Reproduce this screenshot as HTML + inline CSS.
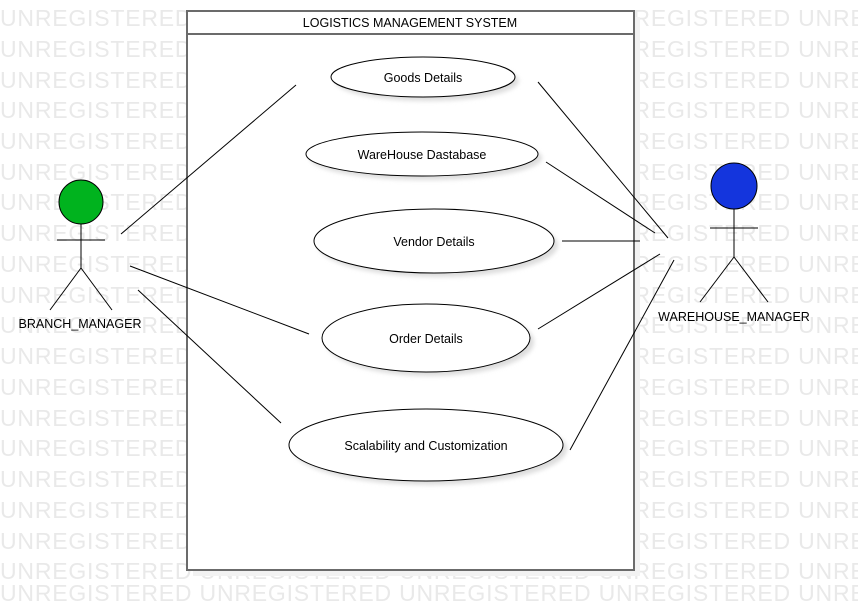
<!DOCTYPE html>
<html><head><style>
body{margin:0;width:858px;height:610px;overflow:hidden;background:#fff;font-family:"Liberation Sans",sans-serif;}
</style></head><body>
<svg width="858" height="610" xmlns="http://www.w3.org/2000/svg" font-family="Liberation Sans, sans-serif">
<defs><filter id="s" x="-10%" y="-20%" width="130%" height="160%"><feGaussianBlur stdDeviation="2"/></filter></defs>
<g fill="#e9e9e9" font-size="23" letter-spacing="0.8">
<text x="0" y="26">UNREGISTERED UNREGISTERED UNREGISTERED UNREGISTERED UNREGISTERED</text>
<text x="0" y="57">UNREGISTERED UNREGISTERED UNREGISTERED UNREGISTERED UNREGISTERED</text>
<text x="0" y="88">UNREGISTERED UNREGISTERED UNREGISTERED UNREGISTERED UNREGISTERED</text>
<text x="0" y="118">UNREGISTERED UNREGISTERED UNREGISTERED UNREGISTERED UNREGISTERED</text>
<text x="0" y="149">UNREGISTERED UNREGISTERED UNREGISTERED UNREGISTERED UNREGISTERED</text>
<text x="0" y="180">UNREGISTERED UNREGISTERED UNREGISTERED UNREGISTERED UNREGISTERED</text>
<text x="0" y="210">UNREGISTERED UNREGISTERED UNREGISTERED UNREGISTERED UNREGISTERED</text>
<text x="0" y="241">UNREGISTERED UNREGISTERED UNREGISTERED UNREGISTERED UNREGISTERED</text>
<text x="0" y="272">UNREGISTERED UNREGISTERED UNREGISTERED UNREGISTERED UNREGISTERED</text>
<text x="0" y="303">UNREGISTERED UNREGISTERED UNREGISTERED UNREGISTERED UNREGISTERED</text>
<text x="0" y="333">UNREGISTERED UNREGISTERED UNREGISTERED UNREGISTERED UNREGISTERED</text>
<text x="0" y="364">UNREGISTERED UNREGISTERED UNREGISTERED UNREGISTERED UNREGISTERED</text>
<text x="0" y="395">UNREGISTERED UNREGISTERED UNREGISTERED UNREGISTERED UNREGISTERED</text>
<text x="0" y="426">UNREGISTERED UNREGISTERED UNREGISTERED UNREGISTERED UNREGISTERED</text>
<text x="0" y="456">UNREGISTERED UNREGISTERED UNREGISTERED UNREGISTERED UNREGISTERED</text>
<text x="0" y="487">UNREGISTERED UNREGISTERED UNREGISTERED UNREGISTERED UNREGISTERED</text>
<text x="0" y="518">UNREGISTERED UNREGISTERED UNREGISTERED UNREGISTERED UNREGISTERED</text>
<text x="0" y="549">UNREGISTERED UNREGISTERED UNREGISTERED UNREGISTERED UNREGISTERED</text>
<text x="0" y="579">UNREGISTERED UNREGISTERED UNREGISTERED UNREGISTERED UNREGISTERED</text>
<text x="0" y="601">UNREGISTERED UNREGISTERED UNREGISTERED UNREGISTERED UNREGISTERED</text>
</g>
<rect x="193" y="17" width="447" height="559" fill="#f2f2f2"/>
<rect x="187" y="11" width="447" height="559" fill="#fff" stroke="#6b6b6b" stroke-width="2"/>
<line x1="187" y1="34" x2="634" y2="34" stroke="#6b6b6b" stroke-width="2"/>
<text x="410" y="27" font-size="12.5" text-anchor="middle" fill="#000">LOGISTICS MANAGEMENT SYSTEM</text>
<g fill="#ddd" filter="url(#s)">
<ellipse cx="427" cy="81" rx="92" ry="20"/>
<ellipse cx="426" cy="158" rx="116" ry="22"/>
<ellipse cx="438" cy="245" rx="120" ry="32"/>
<ellipse cx="430" cy="342" rx="104" ry="34"/>
<ellipse cx="430" cy="449" rx="137" ry="36"/>
</g>
<g fill="#fff" stroke="#000" stroke-width="1">
<ellipse cx="423" cy="77" rx="92" ry="20"/>
<ellipse cx="422" cy="154" rx="116" ry="22"/>
<ellipse cx="434" cy="241" rx="120" ry="32"/>
<ellipse cx="426" cy="338" rx="104" ry="34"/>
<ellipse cx="426" cy="445" rx="137" ry="36"/>
</g>
<g font-size="12.5" text-anchor="middle" fill="#000">
<text x="423" y="82">Goods Details</text>
<text x="422" y="159">WareHouse Dastabase</text>
<text x="434" y="246">Vendor Details</text>
<text x="426" y="343">Order Details</text>
<text x="426" y="450">Scalability and Customization</text>
</g>
<g stroke="#000" stroke-width="1">
<line x1="121" y1="234" x2="296" y2="85"/>
<line x1="130" y1="266" x2="309" y2="334"/>
<line x1="138" y1="290" x2="281" y2="423"/>
<line x1="538" y1="82" x2="668" y2="238"/>
<line x1="546" y1="162" x2="655" y2="233"/>
<line x1="562" y1="241" x2="640" y2="241"/>
<line x1="538" y1="329" x2="660" y2="254"/>
<line x1="570" y1="450" x2="674" y2="260"/>
<circle cx="81" cy="202" r="22" fill="#00b31e"/>
<line x1="81" y1="224" x2="81" y2="268"/>
<line x1="57" y1="240" x2="105" y2="240"/>
<line x1="81" y1="268" x2="50" y2="310"/>
<line x1="81" y1="268" x2="112" y2="310"/>
<circle cx="734" cy="186" r="23" fill="#1435dd"/>
<line x1="734" y1="209" x2="734" y2="257"/>
<line x1="710" y1="228" x2="758" y2="228"/>
<line x1="734" y1="257" x2="700" y2="302"/>
<line x1="734" y1="257" x2="768" y2="302"/>
</g>
<text x="80" y="328" font-size="12.5" text-anchor="middle">BRANCH_MANAGER</text>
<text x="734" y="321" font-size="12.5" text-anchor="middle">WAREHOUSE_MANAGER</text>
</svg>
</body></html>
